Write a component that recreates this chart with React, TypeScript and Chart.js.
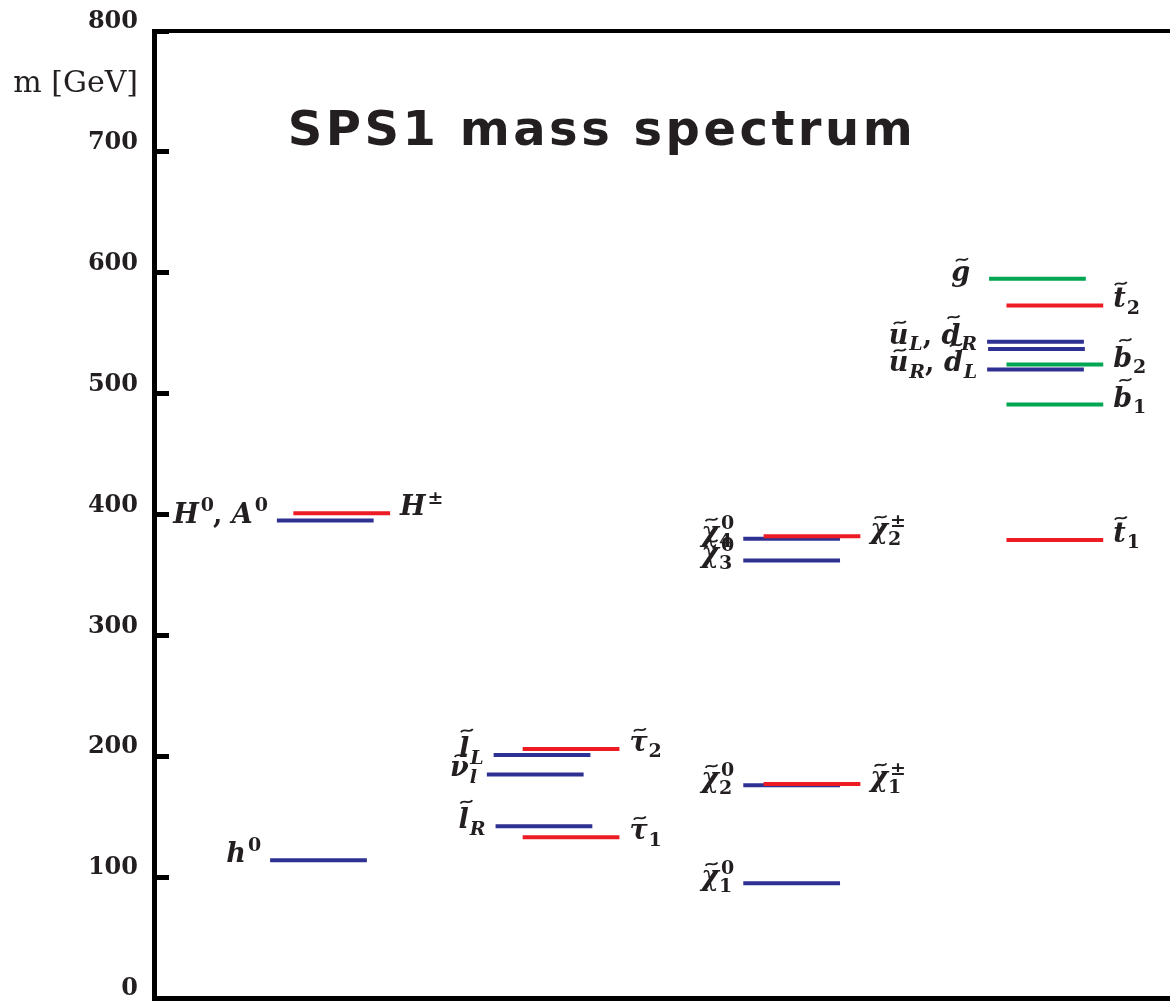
import { useEffect, useRef } from "react";
import { Chart, registerables } from "chart.js";

Chart.register(...registerables);

const TITLE = "SPS1 mass spectrum";
const Y_AXIS_LABEL = "m [GeV]";
const Y_MIN = 0;
const Y_MAX = 800;
const Y_STEP = 100;
const X_MIN = 0;
const X_MAX = 10.5;

// mass levels (GeV)
const levelNames = [
  "h0", "H0/A0", "H+-", "stau2", "slepL", "snu", "slepR", "stau1",
  "chi4_0", "chi2_pm", "chi3_0", "chi2_0", "chi1_pm", "chi1_0",
  "gluino", "stop2", "uL", "dR", "sbot2", "uR/dL", "sbot1", "stop1",
];
const levelMasses = [
  114, 395, 401, 206, 201, 185, 142, 133,
  380, 382, 362, 176, 177, 95,
  595, 573, 543, 537, 524, 520, 491, 379,
];
// horizontal start of each level (arbitrary column units, each level is 1 unit wide)
const levelXStart = [
  1.2, 1.27, 1.44, 3.81, 3.51, 3.44, 3.53, 3.81,
  6.09, 6.3, 6.09, 6.09, 6.3, 6.09,
  8.63, 8.81, 8.61, 8.62, 8.81, 8.61, 8.81, 8.81,
];
const LEVEL_LENGTH = 1;
// b = blue, r = red, g = green
const levelKinds = [
  "b", "b", "r", "r", "b", "b", "b", "r",
  "b", "r", "b", "b", "r", "b",
  "g", "r", "b", "b", "g", "b", "g", "r",
];
// ~ = tilde on next glyph, _x subscript, ^x superscript
const levelLabels = [
  "h^0", "H^0, A^0", "H^±", "~τ_2", "~l_L", "~ν_l", "~l_R", "~τ_1",
  "~χ_4^0", "~χ_2^±", "~χ_3^0", "~χ_2^0", "~χ_1^±", "~χ_1^0",
  "~g", "~t_2", "~u_L, ~d_R", "", "~b_2", "~u_R, ~d_L", "~b_1", "~t_1",
];
const levelLabelSide = [
  "L", "L", "R", "R", "L", "L", "L", "R",
  "L", "R", "L", "L", "R", "L",
  "L", "R", "L", "", "R", "L", "R", "R",
];

const COLORS: Record<string, string> = { b: "#2e3192", r: "#ed1c24", g: "#00a651" };
const TEXT = "#231f20";
const LABEL_SIZE = 27;
const SERIF = '"DejaVu Serif", serif';

type Tok = { t: string; tilde: boolean; sub?: string; sup?: string };

function parseLabel(s: string): Tok[] {
  const out: Tok[] = [];
  const chars = Array.from(s);
  let i = 0;
  while (i < chars.length) {
    let tilde = false;
    if (chars[i] === "~") {
      tilde = true;
      i++;
    }
    const tok: Tok = { t: chars[i], tilde };
    i++;
    while (i < chars.length && (chars[i] === "_" || chars[i] === "^")) {
      const k = chars[i];
      const c = chars[i + 1];
      i += 2;
      if (k === "_") tok.sub = c;
      else tok.sup = c;
    }
    out.push(tok);
  }
  return out;
}

const isLetter = (c: string) => /[A-Za-zα-ωΑ-Ω]/.test(c);
const fontFor = (c: string, size: number) =>
  `${isLetter(c) ? "italic " : ""}bold ${size}px ${SERIF}`;
const TALL = "lhdbkfHAL";

function measureTok(ctx: CanvasRenderingContext2D, tok: Tok) {
  ctx.font = fontFor(tok.t, LABEL_SIZE);
  const wb = ctx.measureText(tok.t).width;
  let ws = 0;
  const ss = Math.round(LABEL_SIZE * 0.7);
  for (const s of [tok.sub, tok.sup]) {
    if (s) {
      ctx.font = fontFor(s, ss);
      ws = Math.max(ws, ctx.measureText(s).width);
    }
  }
  return { wb, ws, total: wb + (ws ? ws + 1 : 0) };
}

function drawTilde(ctx: CanvasRenderingContext2D, cx: number, cy: number) {
  const w = LABEL_SIZE * 0.44;
  const a = LABEL_SIZE * 0.06;
  ctx.beginPath();
  ctx.moveTo(cx - w / 2, cy + a);
  ctx.bezierCurveTo(cx - w / 4, cy - 2.2 * a, cx + w / 4, cy + 2.2 * a, cx + w / 2, cy - a);
  ctx.lineWidth = 1.8;
  ctx.strokeStyle = TEXT;
  ctx.stroke();
}

function drawLabel(ctx: CanvasRenderingContext2D, label: string, x: number, y: number, side: string) {
  const toks = parseLabel(label);
  const ms = toks.map((t) => measureTok(ctx, t));
  const total = ms.reduce((a, m) => a + m.total, 0);
  let cx = side === "L" ? x - total : x;
  ctx.fillStyle = TEXT;
  ctx.textAlign = "left";
  ctx.textBaseline = "alphabetic";
  const ss = Math.round(LABEL_SIZE * 0.7);
  toks.forEach((tok, i) => {
    const m = ms[i];
    ctx.font = fontFor(tok.t, LABEL_SIZE);
    ctx.fillText(tok.t, cx, y);
    if (tok.tilde) {
      const tall = TALL.includes(tok.t);
      const ty = y - LABEL_SIZE * (tall ? 0.98 : tok.t === "t" ? 0.88 : 0.78);
      const tx = cx + m.wb / 2 + LABEL_SIZE * (tall ? 0.1 : 0.05);
      drawTilde(ctx, tx, ty);
    }
    const sx = cx + m.wb + 1;
    if (tok.sup) {
      ctx.font = fontFor(tok.sup, ss);
      ctx.fillText(tok.sup, sx + (isLetter(tok.t) ? 1 : 0), y - LABEL_SIZE * 0.42);
    }
    if (tok.sub) {
      ctx.font = fontFor(tok.sub, ss);
      ctx.fillText(tok.sub, sx - (tok.sup ? 1 : 0), y + LABEL_SIZE * 0.24);
    }
    cx += m.total;
  });
}

const annotationPlugin = {
  id: "spectrumAnnotations",
  afterDraw(chart: any) {
    const ctx: CanvasRenderingContext2D = chart.ctx;
    const xs = chart.scales.x;
    const ys = chart.scales.y;
    ctx.save();
    // title
    ctx.fillStyle = TEXT;
    ctx.textAlign = "center";
    ctx.textBaseline = "alphabetic";
    ctx.font = 'bold 48px "DejaVu Sans", sans-serif';
    (ctx as any).letterSpacing = "3.5px";
    ctx.fillText(TITLE, 602, 145);
    (ctx as any).letterSpacing = "0px";
    // y axis unit label
    ctx.font = `30px ${SERIF}`;
    ctx.textAlign = "right";
    ctx.fillText(Y_AXIS_LABEL, 138, 92);
    // level labels
    const gap = 10;
    levelLabels.forEach((lab, i) => {
      if (!lab) return;
      const side = levelLabelSide[i];
      const y = ys.getPixelForValue(levelMasses[i]) + 2;
      const g = levelNames[i] === "gluino" ? 19 : gap;
      const x =
        side === "L"
          ? xs.getPixelForValue(levelXStart[i]) - g
          : xs.getPixelForValue(levelXStart[i] + LEVEL_LENGTH) + g;
      drawLabel(ctx, lab, x, y, side);
    });
    ctx.restore();
  },
};

export default function App() {
  const ref = useRef<HTMLCanvasElement>(null);
  useEffect(() => {
    if (!ref.current) return;
    const datasets = levelNames.map((name, i) => ({
      label: name,
      data: [
        { x: levelXStart[i], y: levelMasses[i] },
        { x: levelXStart[i] + LEVEL_LENGTH, y: levelMasses[i] },
      ],
      showLine: true,
      borderColor: COLORS[levelKinds[i]],
      backgroundColor: COLORS[levelKinds[i]],
      borderWidth: 4,
      borderCapStyle: "butt" as const,
      pointRadius: 0,
      pointHoverRadius: 0,
      order: levelKinds[i] === "r" ? 0 : 1,
    }));
    const chart = new Chart(ref.current, {
      type: "scatter",
      data: { datasets },
      options: {
        animation: false,
        responsive: false,
        devicePixelRatio: 1,
        layout: { padding: 0 },
        plugins: { legend: { display: false }, tooltip: { enabled: false }, title: { display: false } },
        scales: {
          x: {
            type: "linear",
            position: "bottom",
            min: X_MIN,
            max: X_MAX,
            ticks: { display: false },
            grid: { display: false },
            border: { display: true, color: "#000", width: 5 },
            afterFit: (s: any) => {
              s.height = 3;
              s.paddingLeft = 0;
              s.paddingRight = 0;
            },
          },
          x2: {
            type: "linear",
            position: "top",
            min: X_MIN,
            max: X_MAX,
            ticks: { display: false },
            grid: { display: false },
            border: { display: true, color: "#000", width: 4 },
            afterFit: (s: any) => {
              s.height = 31;
              s.paddingLeft = 0;
              s.paddingRight = 0;
            },
          },
          y: {
            type: "linear",
            position: "left",
            min: Y_MIN,
            max: Y_MAX,
            ticks: {
              stepSize: Y_STEP,
              padding: 31,
              labelOffset: -9,
              color: TEXT,
              font: { family: "DejaVu Serif", weight: "bold", size: 24 },
            },
            grid: {
              display: true,
              drawOnChartArea: false,
              drawTicks: true,
              tickLength: -15,
              color: "#000",
              lineWidth: 5,
            },
            border: { display: true, color: "#000", width: 5 },
            afterFit: (s: any) => {
              s.width = 154;
              s.paddingTop = 0;
              s.paddingBottom = 0;
            },
          },
        },
      },
      plugins: [annotationPlugin],
    });
    return () => chart.destroy();
  }, []);
  return (
    <div style={{ position: "absolute", left: 0, top: 0, width: 1170, height: 1001, background: "#fff" }}>
      <canvas ref={ref} width={1170} height={1001} style={{ display: "block" }} />
    </div>
  );
}
